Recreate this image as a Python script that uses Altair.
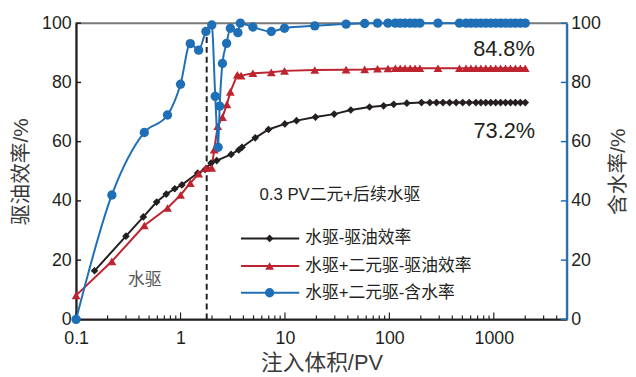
import altair as alt
import pandas as pd

# ---------------- data ----------------
black_x = [0.15, 0.3, 0.44, 0.59, 0.73, 0.88, 1.03, 1.46, 1.72, 1.96,
           2.22, 3.05, 3.61, 3.88, 5.19, 6.95, 9.98, 12.9, 19.6, 29.6,
           42.7, 64.6, 88, 110, 147, 203, 244, 282, 326, 377,
           436, 504, 582, 674, 752, 838, 935, 1042, 1162, 1296,
           1445, 1611, 1797, 2000]
black_y = [16.4, 28.1, 34.6, 39.6, 42.3, 44.1, 45.4, 49.4, 50.6, 52.8,
           53.6, 55.7, 57.2, 58.1, 61.3, 64.1, 66.0, 67.1, 68.3, 69.3,
           70.7, 71.7, 72.1, 72.6, 73.0, 73.2, 73.2, 73.2, 73.2, 73.2,
           73.2, 73.2, 73.2, 73.2, 73.2, 73.2, 73.2, 73.2, 73.2, 73.2,
           73.2, 73.2, 73.2, 73.2]

red_x = [0.1, 0.22, 0.45, 0.75, 1.0, 1.24, 1.49, 1.75, 1.99, 2.1,
         2.27, 2.52, 2.78, 3.0, 3.5, 3.8, 4.93, 7.4, 9.9, 19.3,
         38.5, 58, 77, 97, 114, 127, 141, 158, 176, 196,
         292, 469, 542, 604, 674, 752, 838, 935, 1042, 1162,
         1296, 1445, 1611, 1797, 2000]
red_y = [8.1, 19.6, 31.7, 37.6, 42.0, 46.0, 49.2, 51.1, 51.1, 57.3,
         65.2, 68.3, 72.6, 76.8, 82.6, 82.3, 83.1, 83.4, 83.9, 84.2,
         84.3, 84.4, 84.6, 84.7, 84.8, 84.8, 84.8, 84.8, 84.8, 84.8,
         84.8, 84.8, 84.8, 84.8, 84.8, 84.8, 84.8, 84.8, 84.8, 84.8,
         84.8, 84.8, 84.8, 84.8, 84.8]

blue_x = [0.1, 0.22, 0.45, 0.75, 1.0, 1.24, 1.49, 1.75, 1.99, 2.15,
          2.29, 2.37, 2.52, 2.76, 3.0, 3.54, 3.74, 4.93, 7.4, 9.9,
          19.3, 38.5, 58, 77, 97, 114, 127, 141, 158, 176,
          196, 292, 469, 542, 604, 674, 752, 838, 935, 1042,
          1162, 1296, 1445, 1611, 1797, 2000]
blue_y = [0.0, 42.0, 63.1, 69.0, 79.4, 93.1, 90.9, 97.2, 99.4, 75.3,
          58.1, 72.0, 86.4, 93.2, 98.3, 96.8, 100.0, 98.7, 97.2, 98.3,
          99.1, 99.7, 99.9, 100, 100, 100, 100, 100, 100, 100,
          100, 100, 100, 100, 100, 100, 100, 100, 100, 100,
          100, 100, 100, 100, 100, 100]

legend_labels = ["水驱-驱油效率", "水驱+二元驱-驱油效率", "水驱+二元驱-含水率"]
x_major = [0.1, 1, 10, 100, 1000]
x_minor = [0.2, 0.3, 0.4, 0.5, 0.6, 0.7, 0.8, 0.9,
           2, 3, 4, 5, 6, 7, 8, 9,
           20, 30, 40, 50, 60, 70, 80, 90,
           200, 300, 400, 500, 600, 700, 800, 900,
           2000, 3000, 4000]
y_ticks = [0, 20, 40, 60, 80, 100]
slug_x = 1.78

# ---------------- style ----------------
W, H = 497, 300
BLACK = "#231f20"
RED = "#be2430"
BLUE = "#1f6fb6"
FONT = "'Liberation Sans', 'Noto Sans CJK SC', sans-serif"

df_black = pd.DataFrame({"x": black_x, "y": black_y})
df_red = pd.DataFrame({"x": red_x, "y": red_y})
df_blue = pd.DataFrame({"x": blue_x, "y": blue_y})

xscale = alt.Scale(type="log", domain=[0.1, 5000], nice=False)
yscale = alt.Scale(domain=[0, 100], nice=False)

X = alt.X("x:Q", scale=xscale,
          axis=alt.Axis(values=x_major, format="~g", title="注入体积/PV",
                        grid=False, ticks=False, domainColor=BLACK, domainWidth=2,
                        labelFontSize=18, labelColor=BLACK, labelPadding=10,
                        labelFlush=False,
                        titleFontSize=22, titleColor="#3a3a3a", titleFontWeight="normal",
                        titleY=44, titleBaseline="middle"))

YL = alt.Y("y:Q", scale=yscale,
           axis=alt.Axis(values=y_ticks, title="驱油效率/%", grid=False, ticks=False,
                         domainColor=BLACK, domainWidth=2, orient="left",
                         labelFontSize=18, labelColor=BLACK, labelPadding=5,
                         titleFontSize=21, titleColor="#3a3a3a", titleFontWeight="normal",
                         titleAngle=270, titleX=-55, titleY=150,
                         titleAlign="center", titleBaseline="middle"))

YR = alt.Y("y:Q", scale=yscale,
           axis=alt.Axis(values=y_ticks, title="含水率/%", grid=False, ticks=False,
                         domainColor=BLUE, domainWidth=2, orient="right",
                         labelFontSize=18, labelColor=BLACK, labelPadding=4,
                         titleFontSize=21, titleColor="#3a3a3a", titleFontWeight="normal",
                         titleAngle=270, titleX=52, titleY=150,
                         titleAlign="center", titleBaseline="middle"))

black_line = alt.Chart(df_black).mark_line(color=BLACK, strokeWidth=2).encode(x=X, y=YL)
black_pts = alt.Chart(df_black).mark_point(shape="diamond", filled=True, color=BLACK,
                                           size=60, opacity=1).encode(x=X, y=YL)
red_line = alt.Chart(df_red).mark_line(color=RED, strokeWidth=2).encode(x=X, y=YL)
red_pts = alt.Chart(df_red).mark_point(shape="triangle-up", filled=True, color=RED,
                                       size=80, opacity=1).encode(x=X, y=YL)

dash = alt.Chart(pd.DataFrame({"x": [slug_x]})).mark_rule(
    color=BLACK, strokeWidth=2, strokeDash=[6, 4]).encode(
    x=alt.X("x:Q", scale=xscale), y=alt.datum(0), y2=alt.datum(100))

xmaj = alt.Chart(pd.DataFrame({"x": x_major})).mark_rule(color=BLACK, strokeWidth=1.2).encode(
    x=alt.X("x:Q", scale=xscale), y=alt.value(H), y2=alt.value(H - 7))
xmin = alt.Chart(pd.DataFrame({"x": x_minor})).mark_rule(color=BLACK, strokeWidth=1.2).encode(
    x=alt.X("x:Q", scale=xscale), y=alt.value(H), y2=alt.value(H - 4))
yl_ticks = alt.Chart(pd.DataFrame({"y": y_ticks})).mark_rule(color=BLACK, strokeWidth=1.5).encode(
    y=alt.Y("y:Q", scale=yscale), x=alt.value(0), x2=alt.value(5))

ann_style = dict(font=FONT, color=BLACK)
t848 = alt.Chart(pd.DataFrame({"t": ["84.8%"]})).mark_text(fontSize=22, align="center", baseline="middle", **ann_style).encode(
    x=alt.datum(1250), y=alt.datum(91.3), text="t:N")
t732 = alt.Chart(pd.DataFrame({"t": ["73.2%"]})).mark_text(fontSize=22, align="center", baseline="middle", **ann_style).encode(
    x=alt.datum(1260), y=alt.datum(63.6), text="t:N")
tslug = alt.Chart(pd.DataFrame({"t": ["0.3 PV二元+后续水驱"]})).mark_text(fontSize=17, align="left", baseline="middle", **ann_style).encode(
    x=alt.datum(5.7), y=alt.datum(41.8), text="t:N")
twater = alt.Chart(pd.DataFrame({"t": ["水驱"]})).mark_text(fontSize=17, align="center", baseline="middle", font=FONT, color="#555555").encode(
    x=alt.datum(0.455), y=alt.datum(13.3), text="t:N")

# legend (manual, inside plot)
leg_rows = [218, 246, 273]
leg_colors = [BLACK, RED, BLUE]
leg_shapes = ["diamond", "triangle-up", "circle"]
leg_sizes = [60, 80, 90]
leg_layers = []
for lab, yy, col, shp, sz in zip(legend_labels, leg_rows, leg_colors, leg_shapes, leg_sizes):
    d = pd.DataFrame({"t": [lab]})
    base = alt.Chart(d)
    leg_layers.append(base.mark_rule(color=col, strokeWidth=2).encode(
        x=alt.value(167), x2=alt.value(226), y=alt.value(yy)))
    leg_layers.append(base.mark_point(shape=shp, filled=True, color=col, size=sz, opacity=1).encode(
        x=alt.value(196), y=alt.value(yy)))
    leg_layers.append(base.mark_text(fontSize=17, align="left", baseline="middle", **ann_style).encode(
        x=alt.value(232), y=alt.value(yy), text="t:N"))

left = alt.layer(xmin, xmaj, yl_ticks, dash, black_line, red_line, black_pts, red_pts,
                 t848, t732, tslug, twater, *leg_layers)

blue_line = alt.Chart(df_blue).mark_line(color=BLUE, strokeWidth=2, interpolate="monotone").encode(x=X, y=YR)
blue_pts = alt.Chart(df_blue).mark_point(shape="circle", filled=True, color=BLUE,
                                         size=90, opacity=1).encode(x=X, y=YR)
yr_ticks = alt.Chart(pd.DataFrame({"y": y_ticks})).mark_rule(color=BLUE, strokeWidth=1.5).encode(
    y=alt.Y("y:Q", scale=yscale), x=alt.value(W), x2=alt.value(W - 6))

right = alt.layer(yr_ticks, blue_line, blue_pts)

chart = alt.layer(left, right).resolve_scale(y="independent").properties(
    width=W, height=H,
    autosize=alt.AutoSizeParams(type="none"),
    padding={"left": 69, "top": 13, "right": 62, "bottom": 56},
).configure(font=FONT).configure_view(stroke="#7a7a7a", strokeWidth=2).configure_axis(
    labelFont=FONT, titleFont=FONT)

chart.save("out.html", embed_options={"renderer": "svg", "actions": False})
